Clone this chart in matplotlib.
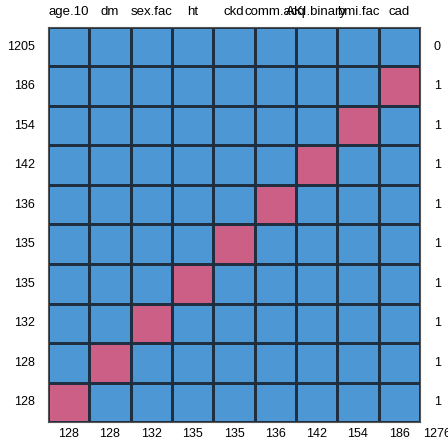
import numpy as np
import matplotlib.pyplot as plt
from matplotlib import font_manager as fm
from matplotlib.colors import ListedColormap

variables = ["age.10", "dm", "sex.fac", "ht", "ckd", "comm.acq", "AKI.binary", "bmi.fac", "cad"]
# rows from top to bottom
row_counts = [1205, 186, 154, 142, 136, 135, 135, 132, 128, 128]
row_missing_var = [None, "cad", "bmi.fac", "AKI.binary", "comm.acq", "ckd", "ht", "sex.fac", "dm", "age.10"]
row_n_missing = [0, 1, 1, 1, 1, 1, 1, 1, 1, 1]
col_missing = [128, 128, 132, 135, 135, 136, 142, 154, 186]
total_missing = 1276

plt.rcParams['font.family'] = ['Liberation Sans', 'DejaVu Sans']
plt.rcParams['font.size'] = 9

nr, nc = len(row_counts), len(variables)
pat = np.zeros((nr, nc))
for i, v in enumerate(row_missing_var):
    if v is not None:
        pat[i, variables.index(v)] = 1

fig = plt.figure(figsize=(4.48, 4.40), dpi=100)
ax = fig.add_axes([48 / 448, 1 - 422 / 440, 372 / 448, 395 / 440])
ax.set_facecolor("#4D98D4")
cmap = ListedColormap(["#4D98D4", "#CC5F85"])
ax.pcolormesh(np.arange(nc + 1), np.arange(nr + 1), pat[::-1], cmap=cmap,
              vmin=0, vmax=1, edgecolor="#1f2f3f", linewidth=0.8)
ax.set_xlim(0, nc)
ax.set_ylim(0, nr)
for s in ax.spines.values():
    s.set_edgecolor("#555555")
    s.set_linewidth(0.8)
ax.set_xticks([])
ax.set_yticks([])

for j, v in enumerate(variables):
    ax.text(j + 0.5, nr + 0.38, v, ha="center", va="center", fontsize=9.5, clip_on=False)
    ax.text(j + 0.5, -0.3, str(col_missing[j]), ha="center", va="center", clip_on=False)
ax.text(nc + 0.42, -0.3, str(total_missing), ha="center", va="center", clip_on=False)
for i in range(nr):
    y = nr - i - 0.5
    ax.text(-0.31, y, str(row_counts[i]), ha="right", va="center", clip_on=False)
    ax.text(nc + 0.42, y, str(row_n_missing[i]), ha="center", va="center", clip_on=False)

fig.savefig("out.png", dpi=100)
